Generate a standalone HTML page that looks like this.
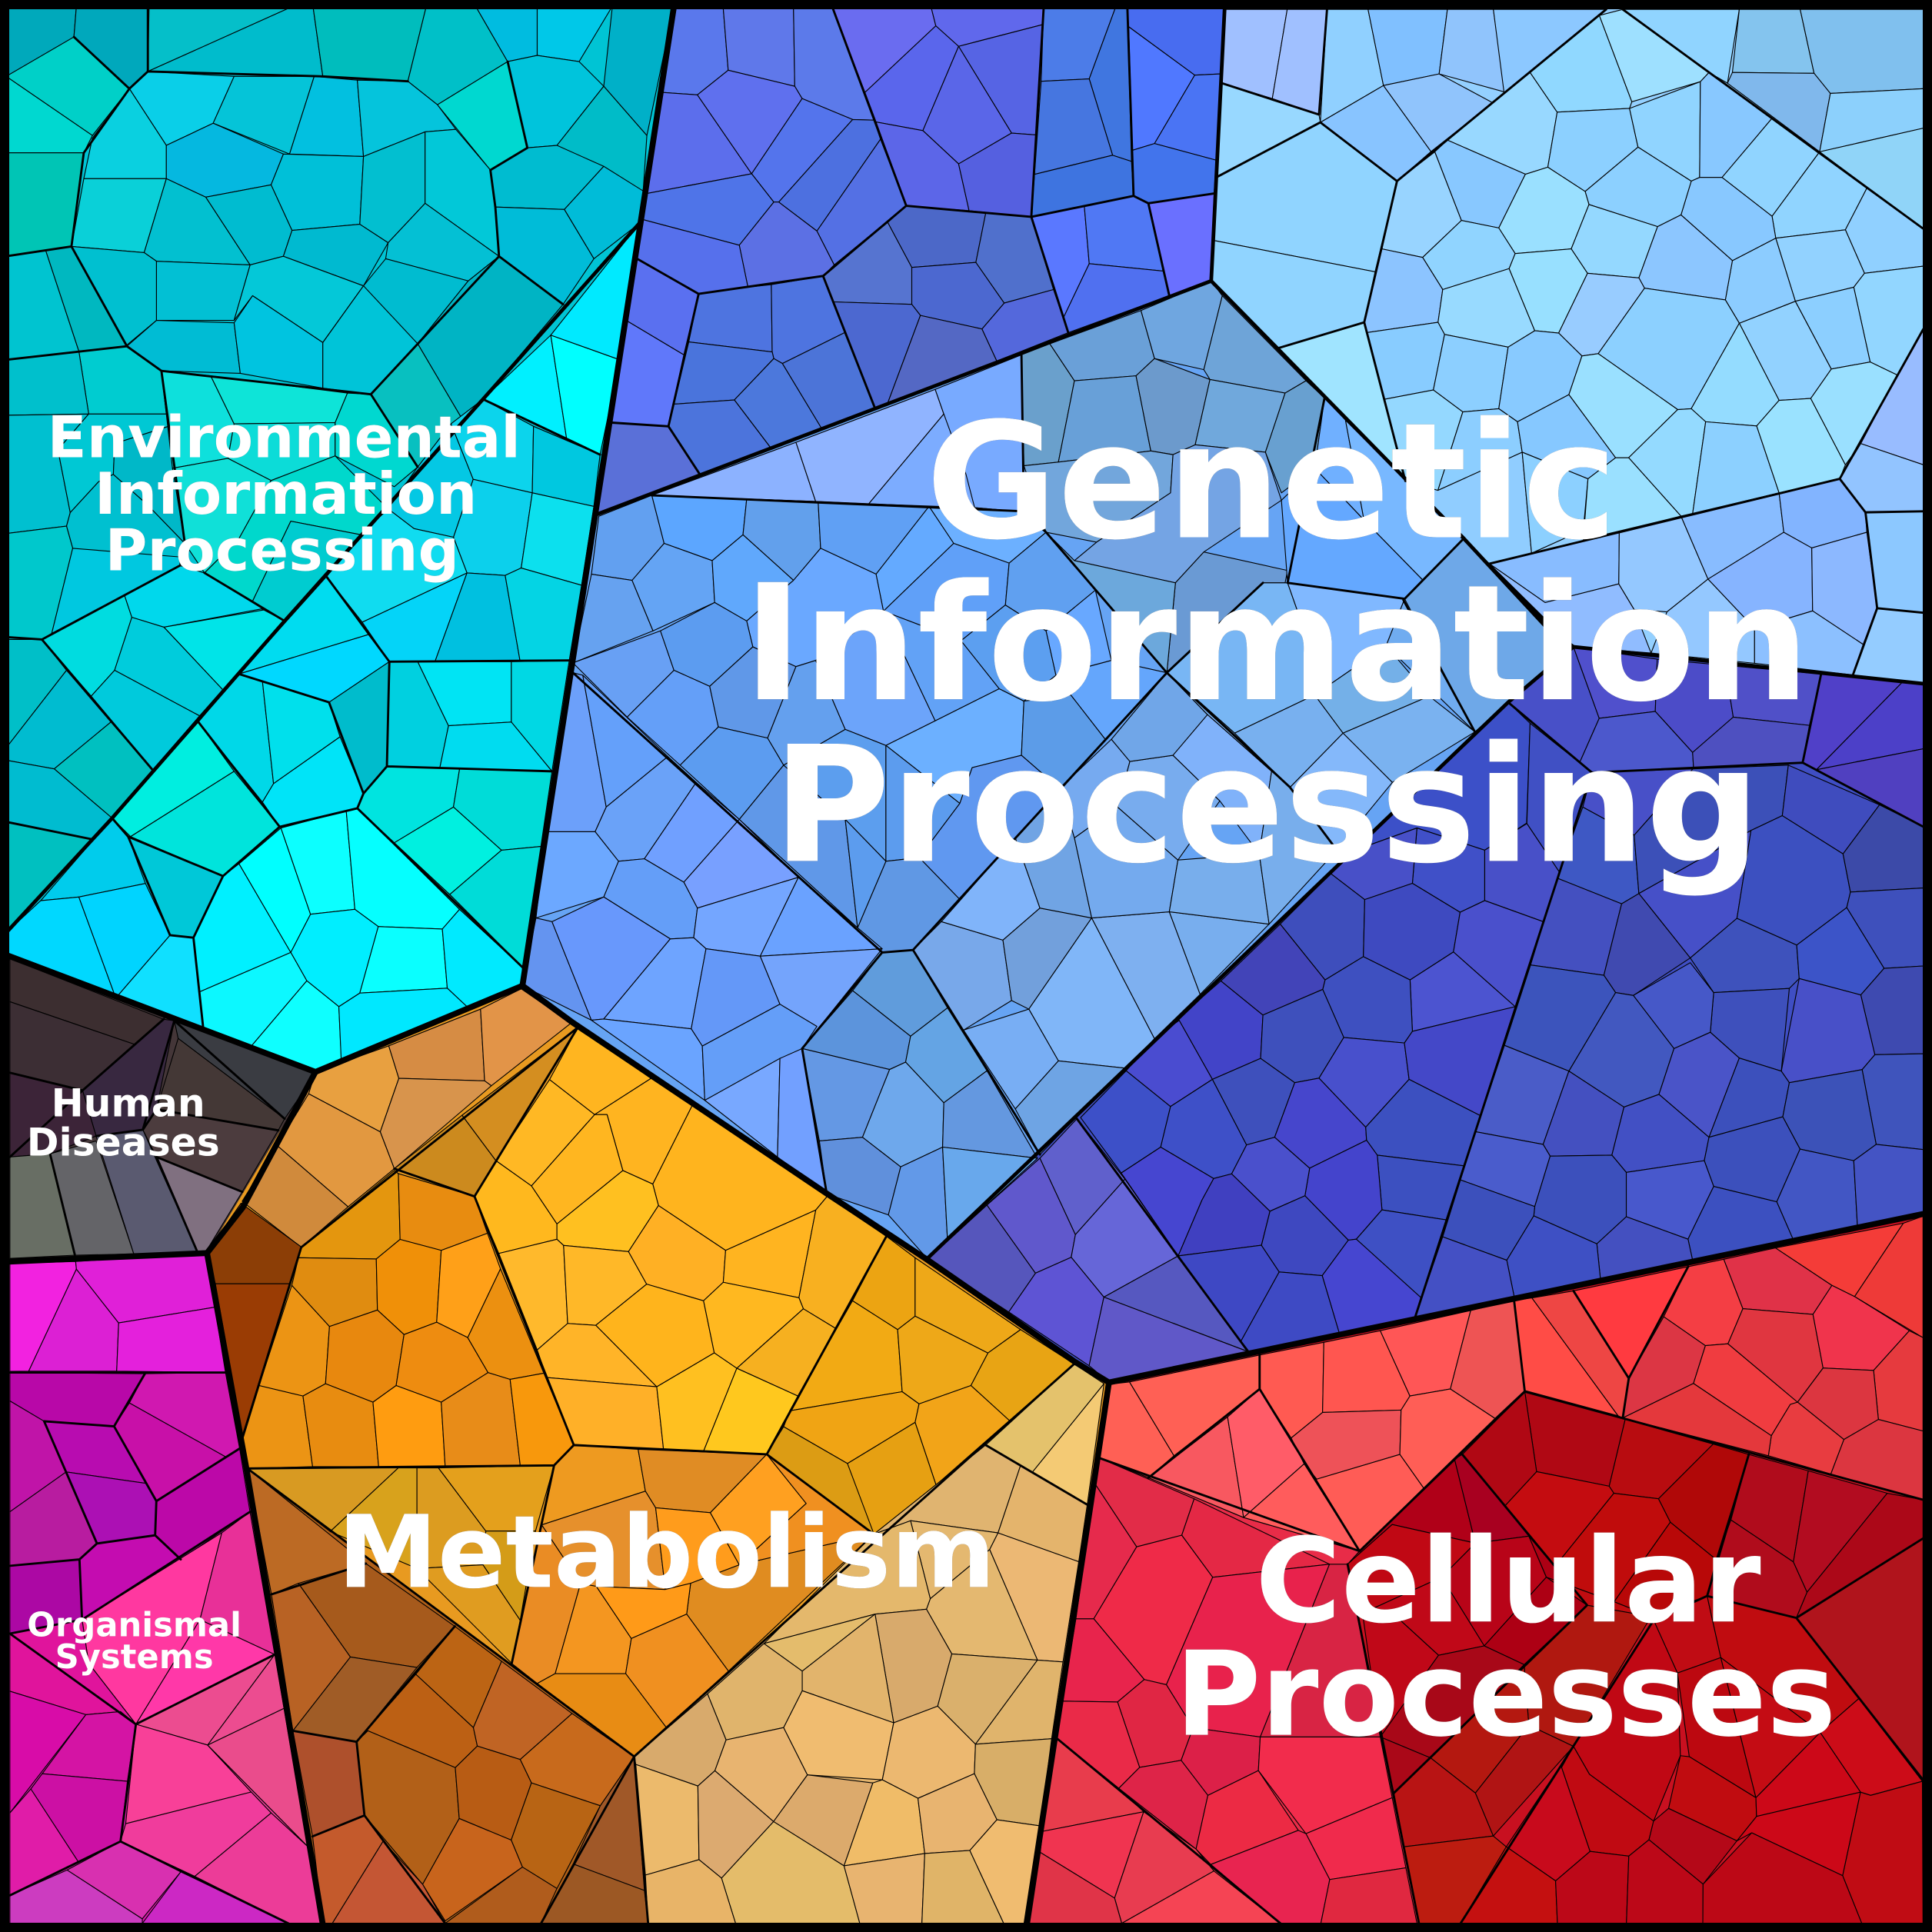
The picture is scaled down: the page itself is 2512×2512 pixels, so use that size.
<!DOCTYPE html>
<html><head><meta charset="utf-8"><style>
html,body{margin:0;padding:0;background:#000}
svg{display:block}
text{font-family:"DejaVu Sans","Liberation Sans",sans-serif;font-weight:bold;fill:#fff;text-anchor:middle;filter:drop-shadow(.7px .7px 0 #444)}
</style></head><body>
<svg xmlns="http://www.w3.org/2000/svg" width="2512" height="2512" viewBox="0 0 1568 1568">
<rect width="1568" height="1568" fill="#000"/>
<!-- base fills -->
<polygon points="5,5 547,5 424,800 256,870 5,775" fill="#00c4d4"/>
<polygon points="547,5 994,5 983,228 483,418" fill="#5a78e0"/>
<polygon points="483,418 983,228 1188,437 1254,508 1277,525 1224,570 875,905 752,1022 424,800" fill="#66a4f4"/>
<polygon points="994,5 1562,5 1562,555 1277,525 1188,437 983,228" fill="#94d0ff"/>
<polygon points="1224,570 1277,525 1562,555 1562,985 900,1122 752,1022 875,905" fill="#3f4ec4"/>
<polygon points="900,1122 1562,985 1562,1562 833,1562" fill="#c81020"/>
<polygon points="892.5,1183.4 1103.4,1258.9 1093.7,1269.5 1151.6,1562 833,1562" fill="#e82c48"/>
<polygon points="256,870 424,800 900,1122 833,1562 262,1562 168,1017" fill="#e89a20"/>
<polygon points="201,1192 514.7,1425.6 526,1562 262,1562" fill="#b06018"/>
<polygon points="514.7,1425.6 871.8,1107 896,1123 833,1562 526,1562" fill="#e4b46c"/>
<polygon points="256,870 250.5,887.7 224.8,929.6 196.5,975" fill="#e29840"/>
<polygon points="5,775 256,870 168,1017 5,1024" fill="#443638"/>
<polygon points="5,1024 168,1017 262,1562 5,1562" fill="#d818a8"/>
<g stroke="#000" stroke-width="0.7" stroke-linejoin="round">
<!-- ENV top -->
<polygon points="5,5 62,5 60,30 5,62" fill="#00a9bb"/>
<polygon points="62,5 121,5 120,58 105,72 60,30" fill="#00a8bc"/>
<polygon points="121,5 238,5 120,58" fill="#05bfc9"/>
<polygon points="238,5 254,5 262,62 120,58" fill="#00bccc"/>
<polygon points="254,5 346,5 331,66 262,62" fill="#00bdbd"/>
<polygon points="346,5 386,5 412,50 355,85 331,66" fill="#00c0c8"/>
<polygon points="386,5 436,5 436,45 412,50" fill="#00bce0"/>
<polygon points="436,5 497,5 470,50 436,45" fill="#00c8e8"/>
<polygon points="497,5 547,5 525,110 490,70" fill="#00b0c8"/>
<polygon points="412,50 436,45 470,50 490,70 452,118 428,120" fill="#00c4dc"/>
<polygon points="490,70 525,110 522,155 452,118" fill="#00bcc8"/>
<polygon points="398,138 428,120 452,118 490,135 458,170 402,168" fill="#00bcd0"/>
<polygon points="458,170 490,135 522,155 518,182 482,210" fill="#00bcd8"/>
<polygon points="402,168 458,170 482,210 457,247 405,208" fill="#00bcd8"/>
<polygon points="355,85 412,50 428,120 398,138" fill="#00d8d0"/>
<polygon points="5,62 60,30 105,72 75,110" fill="#00d0c8"/>
<polygon points="5,62 75,110 68,124 5,124" fill="#00d8d0"/>
<polygon points="5,124 68,124 58,200 5,208" fill="#00c5b5"/>
<polygon points="105,72 120,58 190,62 173,100 135,118" fill="#0acfe8"/>
<polygon points="190,62 255,62 235,125 173,100" fill="#05c4d8"/>
<polygon points="255,62 290,65 295,127 235,125" fill="#02c0e0"/>
<polygon points="290,65 331,66 355,85 370,105 345,107 295,127" fill="#05c4dc"/>
<polygon points="75,112 105,72 135,118 135,145 68,145" fill="#0ad0e0"/>
<polygon points="135,118 173,100 230,125 220,150 167,160 135,145" fill="#05b8e0"/>
<polygon points="230,125 295,127 292,182 237,187 220,150" fill="#00c0d8"/>
<polygon points="295,127 345,107 345,165 315,197 292,182" fill="#02bfd0"/>
<polygon points="345,107 370,105 398,138 402,168 405,208 345,165" fill="#02c8d8"/>
<polygon points="68,145 135,145 117,205 58,200" fill="#0ad0d8"/>
<polygon points="135,145 167,160 203,215 127,212 117,205" fill="#02c0d0"/>
<polygon points="167,160 220,150 237,187 230,208 203,215" fill="#00bcd0"/>
<polygon points="237,187 292,182 315,197 295,232 230,208" fill="#00bad0"/>
<polygon points="315,197 345,165 405,208 380,228 313,210" fill="#04c0d4"/>
<polygon points="58,200 117,205 127,212 127,260 103,280" fill="#00c0d0"/>
<polygon points="127,212 203,215 190,260 127,260" fill="#02c0d4"/>
<polygon points="203,215 230,208 295,232 262,278 205,240 190,260" fill="#04c8d8"/>
<polygon points="295,232 313,210 380,228 339,279 301,320 262,278" fill="#00bcd0"/>
<polygon points="127,260 190,262 195,303 131,301 103,281" fill="#00bcd4"/>
<polygon points="190,262 205,240 262,278 262,315 195,303" fill="#00c4e0"/>
<polygon points="262,278 295,232 339,279 301,320 262,315" fill="#00c4d8"/>
<polygon points="339,279 380,228 405,208 457,247 392,324 375,340" fill="#00b4c4"/>
<polygon points="301,320 339,279 375,340 339,379" fill="#08c0c0"/>
<polygon points="5,208 37,203 64,285 5,292" fill="#00c4d0"/>
<polygon points="37,203 58,200 103,281 64,285" fill="#00b8c0"/>
<!-- ENV middle -->
<polygon points="64,285 103,281 131,301 135,336 72,336" fill="#00ccd0"/>
<polygon points="5,292 64,285 72,336 5,337" fill="#00c0cc"/>
<polygon points="5,337 72,336 47,365 57,416 54,427 5,433" fill="#00c0d0"/>
<polygon points="72,336 135,336 140,345 93,360 92,385 80,391 57,416 47,365" fill="#00c8d4"/>
<polygon points="54,427 57,416 80,391 92,385 120,410 150,441 146,459 59,445" fill="#00c0d0"/>
<polygon points="5,433 54,427 59,445 42,514 34,519 5,517" fill="#00c8cc"/>
<polygon points="59,445 146,452 146,459 42,514" fill="#00c8e0"/>
<polygon points="92,385 93,360 140,345 150,441 120,410" fill="#00b8c8"/>
<polygon points="131,301 171,305 190,344 185,372 140,380" fill="#0ee0dc"/>
<polygon points="171,305 282,319 272,343 190,344" fill="#0ee4d8"/>
<polygon points="190,344 272,343 272,370 220,390 185,372" fill="#0cdcd8"/>
<polygon points="282,319 301,320 339,379 320,395 272,370 272,343" fill="#00d8d0"/>
<polygon points="140,380 185,372 220,390 194,437 166,465 150,441" fill="#10e0d8"/>
<polygon points="220,390 272,370 315,413 293,434 236,423 204,490 166,465 194,437" fill="#00d8cc"/>
<polygon points="236,423 293,434 231,504 204,490" fill="#00ccd0"/>
<polygon points="366,344 392,324 433,346 432,400 384,389" fill="#0cd4ec"/>
<polygon points="433,346 487,369 482,411 432,400" fill="#00c8e0"/>
<polygon points="384,389 432,400 423,461 410,467 379,465 368,436" fill="#0cd0ec"/>
<polygon points="432,400 482,411 472,475 423,461" fill="#0ce0ee"/>
<polygon points="366,344 384,389 368,436 336,429 315,413 339,379" fill="#04c8e4"/>
<polygon points="315,413 336,429 368,436 379,465 294,505 265,468 293,434" fill="#10dcf0"/>
<polygon points="379,465 353,537 316,537 294,505" fill="#04d4f8"/>
<polygon points="379,465 410,467 422,536 353,537" fill="#00c0e0"/>
<polygon points="410,467 423,461 472,475 462,536 422,536" fill="#04d4e4"/>
<polygon points="392,324 447,272 460,357" fill="#00f0ff"/>
<polygon points="447,272 503,292 487,369 460,357" fill="#00ffff"/>
<polygon points="447,272 520,180 503,292" fill="#00eaff"/>
<!-- ENV lower -->
<polygon points="5,519 34,519 54,544 5,607" fill="#00bfc8"/>
<polygon points="54,544 90,586 44,624 5,617 5,607" fill="#00bcd0"/>
<polygon points="90,586 124,625 91,664 44,624" fill="#00c0c0"/>
<polygon points="5,617 44,624 91,664 74,681 5,667" fill="#00bcd0"/>
<polygon points="5,667 74,681 5,757" fill="#00c0c0"/>
<polygon points="34,519 101,483 107,501 93,544 74,565" fill="#00dce0"/>
<polygon points="101,483 146,459 166,465 213,494 133,509 107,501" fill="#00d8ec"/>
<polygon points="133,509 214,495 231,504 181,560" fill="#00e4e8"/>
<polygon points="107,501 133,509 181,560 162,581 93,544" fill="#00ccdc"/>
<polygon points="93,544 162,581 124,625 74,565" fill="#00cadc"/>
<polygon points="194,547 265,468 299,515" fill="#00dcf0"/>
<polygon points="194,547 299,515 316,537 267,570" fill="#00d8ff"/>
<polygon points="267,570 316,537 314,622 295,644" fill="#00bccc"/>
<polygon points="161,586 194,547 213,553 222,636 213,651" fill="#00d8e8"/>
<polygon points="213,553 267,570 276,598 222,636" fill="#00e0ec"/>
<polygon points="222,636 276,598 295,644 290,656 227,671 213,651" fill="#00e4f8"/>
<polygon points="91,664 161,586 190,626 106,679" fill="#00eee0"/>
<polygon points="106,679 190,626 227,671 181,711" fill="#00e4dc"/>
<polygon points="104,679 181,711 157,761 138,759" fill="#00c8d8"/>
<polygon points="91,664 104,679 118,717 64,728 33,731" fill="#00ccec"/>
<polygon points="5,757 33,731 64,728 94,810 5,778" fill="#00d8ff"/>
<polygon points="64,728 118,717 138,759 94,810" fill="#00d4ff"/>
<polygon points="94,810 138,759 157,761 165,835" fill="#10e0ff"/>
<polygon points="181,711 194,701 236,773 162,805 157,761" fill="#00f0ff"/>
<polygon points="194,701 228,672 252,742 236,773" fill="#00ffff"/>
<polygon points="228,672 281,658 288,738 252,742" fill="#0cffff"/>
<polygon points="281,658 290,656 373,738 359,754 307,752 288,738" fill="#05ffff"/>
<polygon points="252,742 288,738 307,752 292,806 275,817 249,796 236,773" fill="#00eeff"/>
<polygon points="307,752 359,754 363,802 292,806" fill="#0affff"/>
<polygon points="359,754 373,738 424,785 424,800 379,817 363,802" fill="#00eaff"/>
<polygon points="162,805 236,773 249,796 204,849 165,835" fill="#0cf8ff"/>
<polygon points="249,796 275,817 277,859 256,870 204,849" fill="#0effff"/>
<polygon points="275,817 292,806 363,802 379,817 277,862" fill="#00e8ff"/>
<polygon points="290,656 295,644 314,622 373,624 368,655 320,684" fill="#00e4e0"/>
<polygon points="373,624 448,626 439,687 407,690 368,655" fill="#00dcd8"/>
<polygon points="320,684 368,655 407,690 365,726" fill="#00f0e0"/>
<polygon points="365,726 407,690 439,687 424,785" fill="#00dcd8"/>
<polygon points="290,656 320,684 365,726 424,785 373,738" fill="#00dcd8"/>
<polygon points="316,537 339,537 364,589 357,623 314,622" fill="#00d0e0"/>
<polygon points="339,537 415,537 415,586 364,589" fill="#00e4f4"/>
<polygon points="415,537 462,536 448,626 415,586" fill="#00d8e4"/>
<polygon points="364,589 415,586 448,626 357,623" fill="#00dcf0"/>
<!-- PERIWINKLE -->
<polygon points="548.6,7 587,7 591,57 566,77 538,75" fill="#5a78ec"/>
<polygon points="587,7 644,7 645,70 591,57" fill="#5f78ea"/>
<polygon points="644,7 676,7 702,75 709.5,97.5 692,97 651,80 645,70" fill="#5c7aea"/>
<polygon points="538,75 566,77 610,141 525,157" fill="#5c6eec"/>
<polygon points="566,77 591,57 645,70 651,80 610,141" fill="#5f70ee"/>
<polygon points="651,80 692,97 632,164 628,164 610,141" fill="#5474ec"/>
<polygon points="692,97 709.5,97.5 714.6,113 663,187.5 632,164" fill="#4d70e0"/>
<polygon points="714.6,113 735.5,167 677,215 663,187.5" fill="#5470e4"/>
<polygon points="525,157 610,141 628,164 600,199 521,178" fill="#4f74e8"/>
<polygon points="628,164 632,164 663,187.5 677,215 668,224 607,233 600,199" fill="#5c70e4"/>
<polygon points="521,178 600,199 607,233 567,238.5 517,210" fill="#5670ec"/>
<polygon points="517,210 567,238.5 555,288 509,260.5" fill="#5a70f0"/>
<polygon points="509,260.5 555,288 542.5,346 496.5,343" fill="#6078fa"/>
<polygon points="496.5,343 542.5,346 568,385 483,418" fill="#5a70d8"/>
<polygon points="567,238.5 607,233 626,231 626.7,285.6 559,277.5" fill="#4e74e0"/>
<polygon points="626,231 668,224 685.5,270 635,295 628,291 626.7,285.6" fill="#4e74e0"/>
<polygon points="559,277.5 626.7,285.6 628,291 596,324.6 547,328" fill="#4a74dc"/>
<polygon points="628,291 635,295 667,348 625.6,363.6 596,324.6" fill="#4c78dc"/>
<polygon points="635,295 685.5,270 710,331 667,348" fill="#4c74d8"/>
<polygon points="547,328 596,324.6 625.6,363.6 568,385 542.5,346" fill="#4c74dc"/>
<polygon points="668,224 720.5,180.5 740,217 740,247 676,245" fill="#5674d0"/>
<polygon points="720.5,180.5 735.5,167 800,173 792,213 740,217" fill="#4c68c8"/>
<polygon points="800,173 837,176 855,235 815,246 792,213" fill="#5070cc"/>
<polygon points="740,217 792,213 815,246 797,267 747,256 740,247" fill="#4c68d0"/>
<polygon points="676,245 740,247 747,256 720.5,327 710,331" fill="#4c68d0"/>
<polygon points="747,256 797,267 809,293 720.5,327" fill="#5468c4"/>
<polygon points="815,246 855,235 867,270 809,293 797,267" fill="#5468dc"/>
<polygon points="676,7 756,7 759.5,21 702,75" fill="#6a6cf0"/>
<polygon points="756,7 847,7 846,20 778,37.6 759.5,21" fill="#6068ec"/>
<polygon points="702,75 759.5,21 778,37.6 749,106 711,99" fill="#5a66ec"/>
<polygon points="778,37.6 846,20 841,109.5 821,108" fill="#5664e4"/>
<polygon points="778,37.6 821,108 778,133 749,106" fill="#5a66e8"/>
<polygon points="711,99 749,106 778,133 786.5,171 735.5,167" fill="#5c66e8"/>
<polygon points="778,133 821,108 841,109.5 837,176 786.5,171" fill="#5560e0"/>
<polygon points="847,7 905,7 884,64 845,66" fill="#4c7ce8"/>
<polygon points="905,7 915,7 918.3,131 903,126 884,64" fill="#4076e0"/>
<polygon points="845,66 884,64 903,126 839.6,141.5" fill="#4676e0"/>
<polygon points="839.6,141.5 903,126 918.3,131 920,159 837,176" fill="#3e74e0"/>
<polygon points="915,7 994,7 991,60 969.6,61 916,21.7" fill="#486cf0"/>
<polygon points="916,21.7 969.6,61 937,116.5 919,122" fill="#5078ff"/>
<polygon points="969.6,61 991,60 987,130 937,116.5" fill="#4a74f4"/>
<polygon points="919,122 937,116.5 987,130 985.4,157 932,165 920,159" fill="#4274ec"/>
<polygon points="837,176 880,167 884,214 863,258" fill="#5a78ff"/>
<polygon points="880,167 920,159 932,165 944,220 884,214" fill="#5078f4"/>
<polygon points="932,165 985.4,157 982.7,227 949,240 944,220" fill="#6a70ff"/>
<polygon points="884,214 944,220 949,240 867,270 863,258" fill="#5070f0"/>
<!-- LIGHT BLUE -->
<polygon points="993.5,7.6 1044.7,7.6 1032.6,80 991.6,67.5" fill="#a0c0ff"/>
<polygon points="1044.7,7.6 1077,7.6 1070.5,93 1032.6,80" fill="#a0c0ff"/>
<polygon points="1077,7.6 1110.3,7.6 1122.8,69.4 1071.6,99.3" fill="#90d0ff"/>
<polygon points="1110.3,7.6 1174.7,7.6 1168,60 1122.8,69.4" fill="#80c0ff"/>
<polygon points="1174.7,7.6 1212,7.6 1221.3,74.7 1168,60" fill="#90c4fc"/>
<polygon points="1212,7.6 1303.6,7.6 1298,12.5 1221.3,80" fill="#8cc8ff"/>
<polygon points="1071.6,99.3 1122.8,69.4 1161.4,123 1133.8,147" fill="#88c4ff"/>
<polygon points="1122.8,69.4 1168,60 1211.5,83.4 1161.4,123" fill="#90c4fc"/>
<polygon points="991.6,67.5 1070.5,93 1071.6,99.3 987,144" fill="#98d8ff"/>
<polygon points="987,144 1071.6,99.3 1133.8,147 1116,220.6 984.4,195" fill="#90d4ff"/>
<polygon points="984.4,195 1116,220.6 1107.2,261.6 1038,282.4 982,227.4" fill="#90d4ff"/>
<polygon points="1038,282.4 1107.2,261.6 1140.6,390.4" fill="#a0e4ff"/>
<polygon points="1133.8,147 1164.5,123.2 1186.1,178.9 1154.6,208.9 1121.6,202" fill="#98d4ff"/>
<polygon points="1174.7,113.7 1238,141.4 1256.2,135.7 1263.8,91 1241.8,58.8" fill="#98d8ff"/>
<polygon points="1164.5,123.2 1174.7,113.7 1238,141.4 1216.4,185 1186.1,178.9" fill="#88c8ff"/>
<polygon points="1241.8,58.8 1298,12.5 1324.4,82.6 1322.5,88 1263.8,91" fill="#90d8ff"/>
<polygon points="1298,12.5 1317,7.6 1387,58.8 1380,66.3 1324.4,82.6" fill="#9ee0ff"/>
<polygon points="1263.8,91 1322.5,88 1329.4,119.4 1286.5,155.4 1256.2,135.7" fill="#8cd0ff"/>
<polygon points="1322.5,88 1380,66.3 1379.4,144 1372.6,147 1329.4,119.4" fill="#90d4ff"/>
<polygon points="1380,66.3 1387,58.8 1438.2,96 1397.6,144 1379.4,144" fill="#88c8ff"/>
<polygon points="1397.6,144 1438.2,96 1476.8,123.2 1438.2,175.5" fill="#90d4ff"/>
<polygon points="1476.8,123.2 1515.1,152.8 1497.7,186.5 1441.2,193.3 1438.2,175.5" fill="#90d4ff"/>
<polygon points="1515.1,152.8 1561,185.7 1561,216 1513.2,221.8 1497.7,186.5" fill="#90d0ff"/>
<polygon points="1441.2,193.3 1497.7,186.5 1513.2,221.8 1504.5,233.1 1457.1,244.5" fill="#92d2ff"/>
<polygon points="1513.2,221.8 1561,216 1561,267 1539.8,304.4 1517.8,293.8 1504.5,233.1" fill="#92d6ff"/>
<polygon points="1411.6,262.3 1457.1,244.5 1486.3,299.5 1469.6,323.4 1443.9,324.9" fill="#92d2ff"/>
<polygon points="1457.1,244.5 1504.5,233.1 1517.8,293.8 1486.3,299.5" fill="#8ccfff"/>
<polygon points="1406,211.5 1441.2,193.3 1457.1,244.5 1411.6,262.3 1400.3,243.4" fill="#8cccff"/>
<polygon points="1372.6,147 1379.4,144 1397.6,144 1438.2,175.5 1441.2,193.3 1406,211.5 1364.3,174.4" fill="#88c8ff"/>
<polygon points="1329.4,119.4 1372.6,147 1364.3,174.4 1345.3,183.9 1289.6,166 1286.5,155.4" fill="#8cd0ff"/>
<polygon points="1238,141.4 1256.2,135.7 1286.5,155.4 1289.6,166 1275.2,202 1229.7,205.8 1216.4,185" fill="#9ae0ff"/>
<polygon points="1289.6,166 1345.3,183.9 1330.1,225.5 1288.4,221.8 1275.2,202" fill="#94d8ff"/>
<polygon points="1345.3,183.9 1364.3,174.4 1406,211.5 1400.3,243.4 1334.7,233.9 1330.1,225.5" fill="#8cc6ff"/>
<polygon points="1186.1,178.9 1216.4,185 1229.7,205.8 1224.8,218 1170.9,235 1154.6,208.9" fill="#90d4ff"/>
<polygon points="1121.6,202 1154.6,208.9 1170.9,235 1167.1,261.6 1109.5,269.9 1107.2,261.6" fill="#8cc4ff"/>
<polygon points="1170.9,235 1224.8,218 1245.6,268.4 1224,281.7 1172.4,271.4 1167.1,261.6" fill="#98daff"/>
<polygon points="1224.8,218 1229.7,205.8 1275.2,202 1288.4,221.8 1265,270.3 1245.6,268.4" fill="#98e0ff"/>
<polygon points="1288.4,221.8 1330.1,225.5 1334.7,233.9 1297.1,287 1283.9,288.9 1265,270.3" fill="#98ccff"/>
<polygon points="1334.7,233.9 1400.3,243.4 1411.6,262.3 1372.6,331.7 1361.6,332.4 1297.1,287" fill="#8cd0ff"/>
<polygon points="1411.6,262.3 1443.9,324.9 1425.7,345.7 1384.3,342.3 1372.6,331.7" fill="#94dcff"/>
<polygon points="1109.5,269.9 1167.1,261.6 1172.4,271.4 1163.3,316.5 1123.5,324.1" fill="#88ccff"/>
<polygon points="1172.4,271.4 1224,281.7 1216.4,331.7 1187.2,334.3 1163.3,316.5" fill="#8ccfff"/>
<polygon points="1224,281.7 1245.6,268.4 1265,270.3 1283.9,288.9 1273.3,320.3 1231.6,342.3 1216.4,331.7" fill="#88caff"/>
<polygon points="1283.9,288.9 1297.1,287 1361.6,332.4 1321.8,371.5 1311.2,371.5 1273.3,320.3" fill="#9ae0ff"/>
<polygon points="1361.6,332.4 1372.6,331.7 1384.3,342.3 1373.7,417 1364.3,418.9 1321.8,371.5" fill="#94daff"/>
<polygon points="1384.3,342.3 1425.7,345.7 1443.9,400 1373.7,417" fill="#8cd0ff"/>
<polygon points="1425.7,345.7 1443.9,324.9 1469.6,323.4 1497.7,377.2 1493.1,388.6 1443.9,400" fill="#9ae2ff"/>
<polygon points="1469.6,323.4 1486.3,299.5 1517.8,293.8 1539.8,304.4 1510.2,360 1497.7,377.2" fill="#9ae0ff"/>
<polygon points="1539.8,304.4 1561,267 1561,377.2 1510.2,360" fill="#98bcff"/>
<polygon points="1510.2,360 1561,377.2 1561,415 1514,415.8 1493.1,388.6" fill="#92c4ff"/>
<polygon points="1123.5,324.1 1163.3,316.5 1187.2,334.3 1167,398 1140.6,390.4" fill="#94d8ff"/>
<polygon points="1187.2,334.3 1216.4,331.7 1231.6,342.3 1235.4,367 1167,398" fill="#8cceff"/>
<polygon points="1231.6,342.3 1273.3,320.3 1311.2,371.5 1288.8,388.6 1235.4,367" fill="#86c8ff"/>
<polygon points="1140.6,390.4 1167,398 1235.4,367 1243,449 1208.8,457.5 1186,436" fill="#90cdff"/>
<polygon points="1235.4,367 1288.8,388.6 1285,430 1243,449" fill="#8cd0ff"/>
<polygon points="1288.8,388.6 1311.2,371.5 1321.8,371.5 1364.3,418.9 1285,438" fill="#9ae0ff"/>
<polygon points="1317,7.6 1411.6,7.6 1402,67.5 1387,58.8" fill="#90d4ff"/>
<polygon points="1411.6,7.6 1461,7.6 1472.3,59.5 1406,58.8" fill="#84c4ee"/>
<polygon points="1461,7.6 1561,7.6 1561,72 1485.5,75.8 1472.3,59.5" fill="#80c0ee"/>
<polygon points="1402,67.5 1406,58.8 1472.3,59.5 1485.5,75.8 1476.8,123.2" fill="#80b8ec"/>
<polygon points="1485.5,75.8 1561,72 1561,104 1476.8,123.2" fill="#8cd0fc"/>
<polygon points="1476.8,123.2 1561,104 1561,185.7" fill="#90d4f8"/>
<polygon points="1208.8,457.5 1314.2,432 1313.8,473.9 1254,489" fill="#88bcff"/>
<polygon points="1208.8,457.5 1254,489 1313.8,473.9 1326.3,494.7 1340,530 1277,525" fill="#90bcff"/>
<polygon points="1314.2,432 1364.3,418.9 1386.2,470 1352.9,496.6 1326.3,494.7 1313.8,473.9" fill="#94c8ff"/>
<polygon points="1364.3,418.9 1443.9,400 1447.7,432 1386.2,470" fill="#88bcff"/>
<polygon points="1443.9,400 1493.1,388.6 1514,415.8 1515.1,432 1470.4,444.7 1447.7,432" fill="#82b4ff"/>
<polygon points="1447.7,432 1470.4,444.7 1471.1,495.8 1424,510 1386.2,470" fill="#86b4ff"/>
<polygon points="1470.4,444.7 1515.1,432 1523.5,493.6 1512.1,523 1471.1,495.8" fill="#8cb8ff"/>
<polygon points="1386.2,470 1424,510 1424,538.3 1340,530 1352.9,496.6" fill="#94c8ff"/>
<polygon points="1424,510 1471.1,495.8 1512.1,523 1503.8,547.8 1424,538.3" fill="#8cc0ff"/>
<polygon points="1514,415.8 1561,415 1561,497.3 1523.5,493.6" fill="#8cc8ff"/>
<polygon points="1523.5,493.6 1561,497.3 1561,554.2 1503.8,547.8" fill="#94ccff"/>
<!-- CENTRAL -->
<polygon points="529,402 646,359 662,407" fill="#8cb2ff"/>
<polygon points="646,359 759,316 766,336 705,409 662,407" fill="#90b4ff"/>
<polygon points="759,316 829,288 831,378 826,415 791,412 766,336" fill="#78aaff"/>
<polygon points="766,336 784,385 791,412 705,409" fill="#7cacff"/>
<polygon points="829,288 852,279 872,309 859,375 831,378" fill="#6aa0cc"/>
<polygon points="852,279 926,252 937,291 922,305 872,309" fill="#6aa0d8"/>
<polygon points="926,252 983,228 992,240 977,300 937,291" fill="#6fa6e0"/>
<polygon points="992,240 1060,309 1043,319 982,308 977,300" fill="#6ea4d8"/>
<polygon points="872,309 922,305 934,366 859,375" fill="#68a0d8"/>
<polygon points="922,305 937,291 982,308 970,361 952,369 934,366" fill="#6c9acc"/>
<polygon points="982,308 1043,319 1027,367 970,361" fill="#70a8dc"/>
<polygon points="1043,319 1060,309 1075,323 1067,380 1040,400 1027,367" fill="#68a0d0"/>
<polygon points="859,375 934,366 952,369 950,400 890,440 849,432 831,378" fill="#72a6dc"/>
<polygon points="952,369 970,361 1027,367 1040,406 977,448 954,473 872,455 890,440 950,400" fill="#74a4e4"/>
<polygon points="977,448 1045,463 1043,473 1025,473 947,546 954,473" fill="#6a9ad4"/>
<polygon points="849,432 872,455 954,473 947,546" fill="#6ca8dc"/>
<polygon points="1075,323 1092,341 1107,422 1067,380" fill="#70b0ff"/>
<polygon points="1067,380 1107,422 1155,471 1140,486 1045,473 1040,406" fill="#64a8ff"/>
<polygon points="1092,341 1188,437 1155,471 1107,422" fill="#78b8ff"/>
<polygon points="1139,487 1155,471 1188,437 1254,508 1277,525 1224,570 1197,594" fill="#6ea8e8"/>
<polygon points="947,546 1025,473 1045,473 1065,530 1067,564 1002,595" fill="#78b6f4"/>
<polygon points="1045,473 1140,486 1125,524 1067,564 1065,530" fill="#80b8ff"/>
<polygon points="1140,486 1197,594 1125,524" fill="#70acf0"/>
<polygon points="1002,595 1067,564 1090,595 1047,639" fill="#78b0ef"/>
<polygon points="1067,564 1125,524 1160,565 1090,595" fill="#74b0e8"/>
<polygon points="1090,595 1160,565 1197,594 1130,635" fill="#7ab2f0"/>
<polygon points="1047,639 1090,595 1130,635 1085,690" fill="#84b8fa"/>
<polygon points="741,771 764,748 814,763 821,812 782,836 769,818" fill="#78a8ea"/>
<polygon points="764,748 824,680 844,737 814,763" fill="#80b4fa"/>
<polygon points="814,763 844,737 886,745 835,819 821,812" fill="#72a0dc"/>
<polygon points="835,819 886,745 937,843 914,867 859,861" fill="#80b6f8"/>
<polygon points="886,745 949,740 974,807 937,843" fill="#7eb0f0"/>
<polygon points="949,740 1030,750 974,807" fill="#78aeee"/>
<polygon points="782,836 835,819 859,861 824,900" fill="#78aef4"/>
<polygon points="859,861 914,867 875,905 844,937 824,900" fill="#6ea4e4"/>
<polygon points="844,737 824,680 860,640 872,680 886,745" fill="#70a4e4"/>
<polygon points="872,680 907,655 956,698 949,740 886,745" fill="#74aaee"/>
<polygon points="860,640 902,600 917,618 907,655 872,680" fill="#76aaf0"/>
<polygon points="907,655 917,618 952,613 990,650 956,698" fill="#78acee"/>
<polygon points="902,600 947,546 980,580 952,613 917,618" fill="#70a6e8"/>
<polygon points="947,546 1002,595 1032,626 980,580" fill="#78b0ef"/>
<polygon points="952,613 980,580 1032,626 1022,693 990,650" fill="#80b2fa"/>
<polygon points="956,698 1022,693 1030,750 949,740" fill="#78aeec"/>
<polygon points="1022,693 1032,626 1047,639 1085,690 1030,750" fill="#78aeec"/>
<polygon points="486,419 529,402 539,441 513,471 480,466" fill="#62a0f0"/>
<polygon points="529,402 606,405 603,434 578,455 539,441" fill="#5ca6ff"/>
<polygon points="606,405 664,407 666,445 644,471 603,434" fill="#62a0ec"/>
<polygon points="664,407 754,411 711,466 666,445" fill="#60a0f4"/>
<polygon points="754,411 791,412 826,415 849,432 819,457 774,441" fill="#6cb0ff"/>
<polygon points="711,466 754,411 774,441 717,496" fill="#64aaff"/>
<polygon points="774,441 819,457 816,491 780,520 717,496" fill="#60a0f8"/>
<polygon points="480,466 513,471 530,512 465,538" fill="#66a2f0"/>
<polygon points="513,471 539,441 578,455 580,489 530,512" fill="#64a4f4"/>
<polygon points="578,455 603,434 644,471 606,504 580,489" fill="#60a8fc"/>
<polygon points="644,471 666,445 711,466 717,496 662,536 646,541 611,525 606,504" fill="#6aa8ff"/>
<polygon points="465,538 536,512 547,544 509,582" fill="#68a0f4"/>
<polygon points="536,512 580,489 606,504 611,525 576,557 547,544" fill="#5c9cf0"/>
<polygon points="509,582 547,544 576,557 583,590 552,621" fill="#649ff8"/>
<polygon points="576,557 611,525 646,541 623,599 583,590" fill="#6098e8"/>
<polygon points="552,621 583,590 623,599 636,621 600,665" fill="#5c9cf0"/>
<polygon points="623,599 646,541 662,536 686,592 636,621" fill="#64a0ee"/>
<polygon points="662,536 717,496 759,585 719,605 686,592" fill="#6ca4fa"/>
<polygon points="717,496 780,520 811,559 759,585" fill="#62a2f6"/>
<polygon points="759,585 811,559 831,569 829,613 789,623 779,652 719,605" fill="#6cb0ff"/>
<polygon points="780,520 816,491 849,512 857,548 831,569 811,559" fill="#5c9ff0"/>
<polygon points="816,491 819,457 849,432 889,479 849,512" fill="#60a0f0"/>
<polygon points="849,512 889,479 902,536 857,548" fill="#68a8ff"/>
<polygon points="857,548 902,536 947,546 897,600 869,564" fill="#64a6fc"/>
<polygon points="831,569 869,564 897,600 860,640 829,613" fill="#5c9ce8"/>
<polygon points="600,665 636,621 686,665 696,753" fill="#6098e8"/>
<polygon points="636,621 686,592 719,605 719,699 686,665" fill="#5c9eee"/>
<polygon points="719,605 779,652 746,696 719,699" fill="#5c9cee"/>
<polygon points="779,652 789,623 829,613 860,640 779,730 746,696" fill="#6098f0"/>
<polygon points="719,699 746,696 779,730 741,771 716,773 696,753" fill="#6098e4"/>
<polygon points="686,665 719,699 696,753" fill="#5c9cee"/>
<polygon points="465,546 473,548 492,655 483,675 443,675" fill="#6ca0fa"/>
<polygon points="473,548 542,614 492,655" fill="#64a0fa"/>
<polygon points="542,614 565,635 523,697 502,699 483,675 492,655" fill="#6aa2f8"/>
<polygon points="565,635 600,665 555,716 523,697" fill="#70a0ff"/>
<polygon points="600,665 648,712 566,737 555,716" fill="#78a0ff"/>
<polygon points="443,675 483,675 502,699 490,728 435,745" fill="#6ca8ff"/>
<polygon points="502,699 523,697 555,716 566,737 563,761 544,762 490,728" fill="#649ef8"/>
<polygon points="566,737 648,712 617,776 573,770 563,761" fill="#74a6ff"/>
<polygon points="648,712 696,753 716,770 617,776" fill="#6aa2ff"/>
<polygon points="435,745 448,748 480,828 424,800" fill="#6494f0"/>
<polygon points="448,748 490,728 544,762 490,827 480,828" fill="#6898fc"/>
<polygon points="544,762 563,761 573,770 561,835 490,827" fill="#6ea4ff"/>
<polygon points="573,770 617,776 633,815 570,849 561,835" fill="#6498f8"/>
<polygon points="617,776 716,770 651,851 633,815" fill="#74a4fc"/>
<polygon points="480,828 490,827 561,835 570,849 572,893" fill="#6aa4ff"/>
<polygon points="570,849 633,815 663,833 651,851 572,893" fill="#649ef8"/>
<polygon points="572,893 633,859 631,939" fill="#78a8ff"/>
<polygon points="633,859 651,851 671,969 631,939" fill="#72a0ff"/>
<polygon points="716,773 741,771 769,818 739,841 692,804" fill="#609cdc"/>
<polygon points="692,804 739,841 735,862 722,868 651,851" fill="#5c94dc"/>
<polygon points="769,818 801,869 766,895 735,862 739,841" fill="#64a4e4"/>
<polygon points="651,851 722,868 700,923 665,926" fill="#6498e4"/>
<polygon points="722,868 735,862 766,895 765,931 731,947 700,923" fill="#6ea8ec"/>
<polygon points="801,869 842,940 765,931 766,895" fill="#6498e0"/>
<polygon points="665,926 700,923 731,947 721,986 671,969" fill="#6090dc"/>
<polygon points="731,947 765,931 769,1007 753,1022 721,986" fill="#6299e8"/>
<polygon points="765,931 842,940 769,1007" fill="#68a8ec"/>
<!-- PURPLE -->
<polygon points="753,1022 801,978 840.4,1033.3 818.7,1064.8" fill="#5656bc"/>
<polygon points="801,978 844,940 872.8,1002 869.4,1020.4 840.4,1033.3" fill="#6058cc"/>
<polygon points="844,940 874,908 913,957 872.8,1002" fill="#6060cc"/>
<polygon points="872.8,1002 913,957 956.2,1019.3 895.9,1052.7 869.4,1020.4" fill="#6666d8"/>
<polygon points="840.4,1033.3 869.4,1020.4 895.9,1052.7 883.9,1108.4 818.7,1064.8" fill="#5e54d4"/>
<polygon points="895.9,1052.7 956.2,1019.3 1013,1097" fill="#5658c0"/>
<polygon points="895.9,1052.7 1013,1097 899.8,1121.6 883.9,1108.4" fill="#6058c8"/>
<!-- DARK BLUE -->
<polygon points="877,907 914,869 950,898 942,931 910,952" fill="#3d50c8"/>
<polygon points="914,869 937,843 957,828 984,876 950,898" fill="#4a4cd0"/>
<polygon points="937,843 990.9,796.1 1025,823.8 1023.1,859 984,876 957,828" fill="#4244c8"/>
<polygon points="942,931 950,898 984,876 1011.7,929.2 999.6,952.7 985,956.5" fill="#3e50c8"/>
<polygon points="910,952 942,931 985,956.5 975.5,974 956.2,1019.3" fill="#4646d0"/>
<polygon points="975.5,974 985,956.5 999.6,952.7 1030.7,983 1023.8,1010.6 956.2,1019.3" fill="#4040c0"/>
<polygon points="956.2,1019.3 1023.8,1010.6 1038.2,1032.3 1007.2,1088.4 1013,1097" fill="#3e48c4"/>
<polygon points="1224,570 1277,525 1297.9,583 1282,619" fill="#4850c8"/>
<polygon points="1277,525 1345,535 1343.4,577.4 1297.9,583" fill="#5050cc"/>
<polygon points="1345,535 1400,540 1406.7,582 1373.7,610.7 1343.4,577.4" fill="#4c4cc8"/>
<polygon points="1400,540 1478,547 1468.5,588.7 1406.7,582" fill="#5050c8"/>
<polygon points="1297.9,583 1343.4,577.4 1373.7,610.7 1374.5,623.6 1292,627 1282,619" fill="#4c58cc"/>
<polygon points="1373.7,610.7 1406.7,582 1468.5,588.7 1463,619 1374.5,623.6" fill="#4e50c0"/>
<polygon points="1478,547 1543.6,554 1474.2,624.7 1463,619" fill="#5040c8"/>
<polygon points="1543.6,554 1561,555 1561,607.7 1474.2,624.7" fill="#4c40c8"/>
<polygon points="1463,619 1474.2,624.7 1561,607.7 1561,671" fill="#5040c0"/>
<polygon points="1292,627 1374,624 1326.3,677.8 1284.6,655" fill="#4850c8"/>
<polygon points="1284.6,655 1326.3,677.8 1330.1,725.2 1316.1,733.5 1263.8,712.7" fill="#3e58c4"/>
<polygon points="1374,624 1451.4,621 1446.5,662 1421.1,674 1330.1,725.2 1326.3,677.8" fill="#3c50b8"/>
<polygon points="1330.1,725.2 1421.1,674 1409.7,745.3 1371.8,777.5" fill="#4650c8"/>
<polygon points="1263.8,712.7 1316.1,733.5 1301.7,791.5 1242.2,783.2" fill="#4450c0"/>
<polygon points="1316.1,733.5 1330.1,725.2 1371.8,777.5 1325.6,807.9 1311.2,805.6 1301.7,791.5" fill="#404ab0"/>
<polygon points="1371.8,777.5 1409.7,745.3 1458.2,767 1460.2,794.2 1452.2,802.2 1390.8,805.6" fill="#3e52bc"/>
<polygon points="1451.4,621 1525.4,653.2 1495.8,693 1446.5,662" fill="#3f4cbe"/>
<polygon points="1421.1,674 1446.5,662 1495.8,693 1501.8,724 1498.8,736.6 1458.2,767 1409.7,745.3" fill="#3c50c0"/>
<polygon points="1525.4,653.2 1561,671 1561,720.7 1501.8,724 1495.8,693" fill="#3c4aa8"/>
<polygon points="1501.8,724 1561,720.7 1561,784 1529.1,785.9 1498.8,736.6" fill="#3e50bc"/>
<polygon points="1458.2,767 1498.8,736.6 1529.1,785.9 1510.2,807.5 1460.2,794.2" fill="#3c54c8"/>
<polygon points="1529.1,785.9 1561,784 1561,855.2 1521.6,856 1510.2,807.5" fill="#3e4ab0"/>
<polygon points="1460.2,794.2 1510.2,807.5 1521.6,856 1511.3,868.1 1452.2,878.7 1445.7,869.3" fill="#4850c8"/>
<polygon points="1511.3,868.1 1521.6,856 1561,855.2 1561,933 1522.7,928.8" fill="#3f54bc"/>
<polygon points="1390.8,805.6 1452.2,802.2 1445.7,869.3 1411.6,858.7 1388.1,837.8" fill="#3e50bc"/>
<polygon points="1371.8,781.3 1390.8,805.6 1388.1,837.8 1358.6,851 1325.6,807.9" fill="#4658c8"/>
<polygon points="1242.2,783.2 1301.7,791.5 1311.2,805.6 1273.3,869.3 1221,848.4" fill="#3c54bc"/>
<polygon points="1311.2,805.6 1325.6,807.9 1358.6,851 1346.4,888.2 1318,898.5 1273.3,869.3" fill="#4258c0"/>
<polygon points="1358.6,851 1388.1,837.8 1411.6,858.7 1387,923 1346.4,888.2" fill="#4a54c8"/>
<polygon points="1411.6,858.7 1445.7,869.3 1452.2,878.7 1446.9,906.4 1387,923" fill="#3c50bc"/>
<polygon points="1452.2,878.7 1511.3,868.1 1522.7,928.8 1504.5,942 1460.9,932.6 1446.9,906.4" fill="#3c52b8"/>
<polygon points="1221,848.4 1273.3,869.3 1252.4,928.8 1197.5,918.5" fill="#4a5cc8"/>
<polygon points="1273.3,869.3 1318,898.5 1308.2,937.5 1258.1,938.3 1252.4,928.8" fill="#4450c0"/>
<polygon points="1318,898.5 1346.4,888.2 1387,923 1383.2,942 1319.9,951.5 1308.2,937.5" fill="#4250c4"/>
<polygon points="1387,923 1446.9,906.4 1460.9,932.6 1442,975.4 1390.8,962.9 1383.2,942" fill="#3c50bc"/>
<polygon points="1460.9,932.6 1504.5,942 1507.5,995.5 1455.2,1005.7 1442,975.4" fill="#4256c4"/>
<polygon points="1504.5,942 1522.7,928.8 1561,933 1561,986 1507.5,995.5" fill="#4454c4"/>
<polygon points="1197.5,918.5 1252.4,928.8 1258.1,938.3 1245.6,979.2 1185.3,957.6" fill="#4a5ccc"/>
<polygon points="1258.1,938.3 1308.2,937.5 1319.9,951.5 1319.9,987.5 1296,1009.5 1244.8,986.8 1245.6,979.2" fill="#3c50bc"/>
<polygon points="1319.9,951.5 1383.2,942 1390.8,962.9 1370,1005.7 1319.9,987.5" fill="#4858cc"/>
<polygon points="1390.8,962.9 1442,975.4 1455.2,1005.7 1373.7,1022.8 1370,1005.7" fill="#3c50c0"/>
<polygon points="1296,1009.5 1319.9,987.5 1370,1005.7 1373.7,1022.8 1299,1039" fill="#4450c0"/>
<polygon points="1185.3,957.6 1245.6,979.2 1244.8,986.8 1222.9,1022.8 1170.9,1003.8" fill="#3c50bc"/>
<polygon points="1244.8,986.8 1296,1009.5 1299,1039 1228.9,1052.4 1222.9,1022.8" fill="#3e50c4"/>
<polygon points="1170.9,1003.8 1222.9,1022.8 1228.9,1052.4 1148.2,1070" fill="#4450c4"/>
<polygon points="1224,570 1241.8,587 1239,668 1205,690 1150,672 1097,691" fill="#3c50c8"/>
<polygon points="1241.8,587 1292,627 1265.7,708 1239.2,668.4" fill="#4050c4"/>
<polygon points="1150,672 1205,690 1205,730.9 1185,740.4 1146.3,716.9" fill="#4050c8"/>
<polygon points="1205,690 1239.2,668.4 1265.7,708 1252.4,748 1205,730.9" fill="#4850c8"/>
<polygon points="1080,709 1097,691 1150,672 1146.3,716.9 1107.6,730.1" fill="#4850c8"/>
<polygon points="1039,750 1080,709 1107.6,730.1 1106.5,776.4 1075.4,795.3" fill="#3e4ebc"/>
<polygon points="1107.6,730.1 1146.3,716.9 1185,740.4 1179.6,772.6 1144.4,795.3 1106.5,776.4" fill="#3e4ac0"/>
<polygon points="1185,740.4 1205,730.9 1252.4,748 1229.7,817 1179.6,772.6" fill="#4a50cc"/>
<polygon points="1179.6,772.6 1229.7,817 1146.3,837 1144.4,795.3" fill="#4c54d0"/>
<polygon points="1075.4,795.3 1106.5,776.4 1144.4,795.3 1146.3,837 1139.8,846.5 1090.6,842 1073.5,803" fill="#3e50c0"/>
<polygon points="990.9,796.1 1039,750 1075.4,795.3 1073.5,803 1025,823.8" fill="#4244b8"/>
<polygon points="1025,823.8 1073.5,803 1090.6,842 1070.5,875 1050.8,878.7 1023.1,859" fill="#3e50bc"/>
<polygon points="984,876 1023.1,859 1050.8,878.7 1034.5,923 1011.7,929.2" fill="#3e50bc"/>
<polygon points="1050.8,878.7 1070.5,875 1108.4,914.8 1109.1,925.4 1062.9,948.1 1034.5,923" fill="#4646cc"/>
<polygon points="1090.6,842 1139.8,846.5 1143.6,876 1108.4,914.8 1070.5,875" fill="#4850cc"/>
<polygon points="1139.8,846.5 1146.3,837 1229.7,817 1201.2,905.3 1143.6,876" fill="#4448c8"/>
<polygon points="1108.4,914.8 1143.6,876 1201.2,905.3 1188,946.2 1117.8,937.5 1109.1,925.4" fill="#3c50c0"/>
<polygon points="1117.8,937.5 1188,946.2 1173.6,990 1121.6,981.9" fill="#3c50c0"/>
<polygon points="1109.1,925.4 1117.8,937.5 1121.6,981.9 1100.8,1005.7 1094.3,1006.5 1059.1,970.5 1062.9,948.1" fill="#4444cc"/>
<polygon points="1121.6,981.9 1173.6,990 1148.2,1070 1100.8,1005.7" fill="#3e50c4"/>
<polygon points="1034.5,923 1062.9,948.1 1059.1,970.5 1030.7,983 999.6,952.7 1011.7,929.2" fill="#4a50cc"/>
<polygon points="1059.1,970.5 1094.3,1006.5 1073.1,1035.3 1038.2,1032.3 1023.8,1010.7 1030.7,983" fill="#3e48c0"/>
<polygon points="1100.8,1005.7 1153.1,1053 1148.2,1070 1086.8,1081.5 1073.1,1035.3 1094.3,1006.5" fill="#4646d0"/>
<polygon points="1038.2,1032.3 1073.1,1035.3 1086.8,1081.5 1013.6,1096.7 1007.2,1088.4" fill="#3e4ac4"/>
<!-- CELLULAR -->
<polygon points="899.8,1123.5 916.7,1121.6 952.8,1181.5 932.1,1199.3 892.5,1183.4" fill="#ff6055"/>
<polygon points="916.7,1121.6 1022.3,1099.7 1022.3,1127.3 952.8,1181.5" fill="#ff6055"/>
<polygon points="892.5,1183.4 932.1,1199.3 1009.3,1231.6 1103.4,1258.9" fill="#ff5c5c"/>
<polygon points="932.1,1199.3 996.3,1150 1009.3,1231.6" fill="#f85860"/>
<polygon points="996.3,1150 1022.3,1127.3 1047.9,1167.1 1058.5,1188 1009.3,1231.6" fill="#ff5c68"/>
<polygon points="1009.3,1231.6 1058.5,1188 1103.4,1258.9" fill="#ff5c5c"/>
<polygon points="1022.3,1099.7 1074.4,1089.4 1073.4,1146.3 1047.9,1167.1 1022.3,1127.3" fill="#ff5a52"/>
<polygon points="1074.4,1089.4 1120.2,1080 1144.3,1133 1137.1,1144.4 1073.4,1146.3" fill="#ff5650"/>
<polygon points="1120.2,1080 1193.6,1063.6 1177.1,1127.3 1144.3,1133" fill="#ff5656"/>
<polygon points="1193.6,1063.6 1228.8,1055.3 1237.5,1128.5 1213.3,1151.2 1177.1,1127.3" fill="#ee5454"/>
<polygon points="1047.9,1167.1 1073.4,1146.3 1137.1,1144.4 1136.1,1180.4 1068.6,1200.5 1058.5,1188" fill="#ee5258"/>
<polygon points="1137.1,1144.4 1144.3,1133 1177.1,1127.3 1213.3,1151.2 1155.4,1207.7 1136.1,1180.4" fill="#ff5e56"/>
<polygon points="1058.5,1188 1068.6,1200.5 1136.1,1180.4 1155.4,1207.7 1103.4,1258.9" fill="#ff5c56"/>
<polygon points="1228.8,1055.3 1243.3,1053.4 1313.2,1149 1237.5,1128.5" fill="#ff4c46"/>
<polygon points="1243.3,1053.4 1277,1047.7 1321.9,1118.6 1317,1150.8 1313.2,1149" fill="#ee4644"/>
<polygon points="1277,1047.7 1370.1,1028 1321.9,1118.6" fill="#ff3a40"/>
<polygon points="1321.9,1118.6 1350.3,1068.6 1384.1,1092.1 1374.4,1122.8 1317,1150.8" fill="#dc3644"/>
<polygon points="1370.1,1028 1399,1022 1414.5,1062.1 1402.4,1090.6 1384.1,1092.1 1350.3,1068.6" fill="#f43e44"/>
<polygon points="1399,1022 1441,1012.8 1486.8,1043.2 1471.4,1066.7 1414.5,1062.1" fill="#e03248"/>
<polygon points="1441,1012.8 1544.7,992.8 1505.2,1052.3 1486.8,1043.2" fill="#f43c38"/>
<polygon points="1544.7,992.8 1560.7,987 1560.7,1085.6 1505.2,1052.3" fill="#ee3a38"/>
<polygon points="1384.1,1092.1 1402.4,1090.6 1458.9,1138 1453,1139.8 1437.6,1165.2 1374.4,1122.8" fill="#f03c40"/>
<polygon points="1402.4,1090.6 1414.5,1062.1 1471.4,1066.7 1479.6,1110.3 1458.9,1138" fill="#e03640"/>
<polygon points="1471.4,1066.7 1486.8,1043.2 1505.2,1052.3 1549.6,1080 1520.6,1112.2 1479.6,1110.3" fill="#f0344c"/>
<polygon points="1549.6,1080 1560.7,1085.6 1560.7,1161.4 1524.5,1152 1520.6,1112.2" fill="#e63a3e"/>
<polygon points="1458.9,1138 1479.6,1110.3 1520.6,1112.2 1524.5,1152 1496.5,1168.3" fill="#dc3640"/>
<polygon points="1453,1139.8 1458.9,1138 1496.5,1168.3 1485.9,1196.3 1435.2,1181.5 1437.6,1165.2" fill="#e83c40"/>
<polygon points="1496.5,1168.3 1524.5,1152 1560.7,1161.4 1560.7,1217.2 1485.9,1196.3" fill="#dc3640"/>
<polygon points="1317,1150.8 1374.4,1122.8 1437.6,1165.2 1435.2,1181.5" fill="#e4383c"/>
<polygon points="1237.5,1129.4 1319,1152 1306,1206.2 1247.1,1194.4" fill="#b00814"/>
<polygon points="1186.8,1180.4 1237.5,1129.4 1247.1,1194.4 1221.5,1222.1" fill="#b00814"/>
<polygon points="1319,1152 1390.4,1172 1346,1216.4 1309.8,1211.9 1306,1206.2" fill="#b80c10"/>
<polygon points="1390.4,1172 1419.3,1180.4 1392.8,1265.7 1355.6,1235.4 1346,1216.4" fill="#b00808"/>
<polygon points="1247.1,1194.4 1306,1206.2 1309.8,1211.9 1255,1280 1221.5,1222.1" fill="#c40c10"/>
<polygon points="1309.8,1211.9 1346,1216.4 1355.6,1235.4 1310,1300 1255,1280" fill="#c00c0c"/>
<polygon points="1355.6,1235.4 1392.8,1265.7 1385.5,1295.3 1340,1312 1310,1300" fill="#b80808"/>
<polygon points="1103.4,1258.9 1180.5,1184.2 1197.4,1252.4 1129.9,1237.3 1093.7,1269.5" fill="#b00018"/>
<polygon points="1186.8,1180.4 1240.8,1246.7 1197.4,1252.4 1180.5,1184.2" fill="#a80020"/>
<polygon points="1129.9,1237.3 1197.4,1252.4 1170,1280 1105.8,1309.3 1093.7,1269.5" fill="#c00814"/>
<polygon points="1197.4,1252.4 1240.8,1246.7 1255,1280 1204.6,1335.8 1170,1280" fill="#b80418"/>
<polygon points="1240.8,1246.7 1288.1,1302.8 1237,1351 1204.6,1335.8 1255,1280" fill="#ad0014"/>
<polygon points="1105.8,1309.3 1170,1280 1204.6,1335.8 1167.5,1343.4 1132.3,1311.2" fill="#c00818"/>
<polygon points="1255,1280 1310,1300 1340,1312 1288.1,1302.8" fill="#c00c10"/>
<polygon points="1288.1,1302.8 1340,1312 1277,1417.3 1240.8,1400.2 1237,1351" fill="#b01810"/>
<polygon points="1340,1312 1385.5,1295.3 1396.6,1345.3 1361.4,1357.8 1342,1315" fill="#c00c14"/>
<polygon points="1385.5,1295.3 1457.9,1313.1 1508.6,1378.6 1477.2,1406 1396.6,1345.3" fill="#c00c10"/>
<polygon points="1392.8,1265.7 1404.8,1233.5 1455.5,1267.6 1466.6,1292.2 1457.9,1313.1 1385.5,1295.3" fill="#b00c1c"/>
<polygon points="1419.3,1180.4 1467.6,1193.7 1455.5,1267.6 1404.8,1233.5" fill="#b00c1c"/>
<polygon points="1467.6,1193.7 1531.7,1211.9 1466.6,1292.2 1455.5,1267.6" fill="#b20c20"/>
<polygon points="1531.7,1211.9 1560.7,1217.2 1560.7,1248.6 1457.9,1313.1 1466.6,1292.2" fill="#ac0818"/>
<polygon points="1457.9,1313.1 1560.7,1248.6 1560.7,1443.9" fill="#b0141c"/>
<polygon points="1457.9,1313.1 1560.2,1443.9 1560.2,1445.7 1508.6,1378.6" fill="#c00c10"/>
<polygon points="1132.3,1311.2 1167.5,1343.4 1120.2,1409.7 1105.8,1309.3" fill="#c00818"/>
<polygon points="1167.5,1343.4 1204.6,1335.8 1237,1351 1161.2,1426.8 1120.2,1409.7" fill="#a80818"/>
<polygon points="1237,1351 1240.8,1400.2 1197.4,1455.2 1161.2,1426.8" fill="#b41810"/>
<polygon points="1240.8,1400.2 1277,1417.3 1211.9,1490.1 1197.4,1455.2" fill="#b01414"/>
<polygon points="1120.2,1409.7 1161.2,1426.8 1131.3,1455.2" fill="#aa0818"/>
<polygon points="1131.3,1455.2 1161.2,1426.8 1197.4,1455.2 1211.9,1490.1 1139.5,1498.8" fill="#b81414"/>
<polygon points="1139.5,1498.8 1211.9,1490.1 1222.5,1498.8 1185.4,1561.4 1151.6,1561.4" fill="#bc1c10"/>
<polygon points="1342.1,1315 1361.4,1357.8 1363.8,1424.9 1342,1478 1290,1440 1277,1417.3" fill="#c00814"/>
<polygon points="1277,1417.3 1222.5,1498.8 1262.5,1526.5 1290.5,1502.6 1267.4,1434.4" fill="#c80a1c"/>
<polygon points="1267.4,1434.4 1277,1417.3 1290,1440 1342.1,1478 1338.3,1493.1 1321.9,1506.4 1290.5,1502.6" fill="#c00a12"/>
<polygon points="1361.4,1357.8 1396.6,1345.3 1425.1,1459 1371,1425.7" fill="#bc0810"/>
<polygon points="1396.6,1345.3 1477.2,1406 1425.1,1459" fill="#c40c14"/>
<polygon points="1371,1425.7 1425.1,1459 1425.6,1474.2 1409.7,1494 1354.2,1467.7 1363.8,1424.9" fill="#c00c10"/>
<polygon points="1477.2,1406 1508.6,1378.6 1560.2,1445.7 1518.2,1457.1 1510,1454.5" fill="#cc0c18"/>
<polygon points="1425.1,1459 1477.2,1406 1510,1454.5 1425.6,1474.2" fill="#cc0818"/>
<polygon points="1342,1478 1354.2,1467.7 1409.7,1494 1382.2,1529.2 1338.3,1493.1" fill="#b40818"/>
<polygon points="1409.7,1494 1425.6,1474.2 1510,1454.5 1495.5,1522.3 1421.7,1487.5" fill="#cc0818"/>
<polygon points="1510,1454.5 1518.2,1457.1 1560.2,1445.7 1560.7,1561 1511,1561 1495.5,1522.3" fill="#c00c14"/>
<polygon points="1222.5,1498.8 1262.5,1526.5 1264,1561 1185.4,1561" fill="#c41010"/>
<polygon points="1262.5,1526.5 1290.5,1502.6 1321.9,1506.4 1320,1561 1264,1561" fill="#bc0818"/>
<polygon points="1321.9,1506.4 1338.3,1493.1 1382.2,1529.2 1382,1561 1320,1561" fill="#bc0818"/>
<polygon points="1382.2,1529.2 1421.7,1487.5 1495.5,1522.3 1511,1561 1382,1561" fill="#bc0816"/>
<!-- PINK -->
<polygon points="892.5,1183.4 969.2,1216.4 959.1,1246 922.5,1255.4 888.7,1204.3" fill="#e22c48"/>
<polygon points="969.2,1216.4 1079,1269.5 984.2,1280.1 959.1,1246" fill="#e42845"/>
<polygon points="888.7,1204.3 922.5,1255.4 887.7,1313.8 873.2,1313.8" fill="#e62a4c"/>
<polygon points="922.5,1255.4 959.1,1246 984.2,1280.1 946.6,1367.3 928.7,1363.1 887.7,1313.8" fill="#ef2a48"/>
<polygon points="873.2,1313.8 887.7,1313.8 928.7,1363.1 907,1381.3 862.2,1380.6" fill="#e8244c"/>
<polygon points="984.2,1280.1 1079,1269.5 1060,1317 1022.8,1409.7 968.3,1402.2 946.6,1367.3" fill="#e8224c"/>
<polygon points="1079,1269.5 1093.7,1269.5 1120.2,1409.7 1022.8,1409.7 1060,1317" fill="#d82444"/>
<polygon points="928.7,1363.1 946.6,1367.3 968.3,1402.2 958.6,1428.7 924.9,1434.4 907,1381.3" fill="#e02644"/>
<polygon points="862.2,1380.6 907,1381.3 924.9,1434.4 908,1451.4 857.3,1410.5" fill="#ea2a48"/>
<polygon points="958.6,1428.7 968.3,1402.2 1022.8,1409.7 1021.3,1437 980.3,1457.1" fill="#dc2048"/>
<polygon points="908,1451.4 924.9,1434.4 958.6,1428.7 980.3,1457.1 970.7,1500.7" fill="#de2448"/>
<polygon points="980.3,1457.1 1021.3,1437 1053.7,1485.5 982.7,1513.2 970.7,1500.7" fill="#ec2a44"/>
<polygon points="1021.3,1437 1022.8,1409.7 1120.2,1409.7 1129.9,1459 1059.9,1488.2" fill="#f22c4c"/>
<polygon points="1059.9,1488.2 1129.9,1459 1141,1515.9 1079.2,1525.4" fill="#f02a4c"/>
<polygon points="982.7,1513.2 1053.7,1485.5 1059.9,1488.2 1079.2,1525.4 1072,1561 1039.2,1561" fill="#e82450"/>
<polygon points="1079.2,1525.4 1141,1515.9 1150,1561 1072,1561" fill="#e02840"/>
<polygon points="857.3,1410.5 908,1451.4 928.2,1470.4 846.2,1486.3" fill="#e83c4c"/>
<polygon points="846.2,1486.3 928.2,1470.4 904.6,1540.5 844.3,1503.4" fill="#f03450"/>
<polygon points="928.2,1470.4 970.7,1500.7 985.2,1518.5 910.4,1561 904.6,1540.5" fill="#e83c50"/>
<polygon points="844.3,1503.4 904.6,1540.5 910.4,1561 835.6,1561" fill="#e03448"/>
<polygon points="985.2,1518.5 1039.2,1561 910.4,1561" fill="#f54454"/>
<!-- METABOLISM -->
<polygon points="256,870 315.5,848.8 323.7,875.2 308.6,918.6 250.5,887.7" fill="#e8a040"/>
<polygon points="315.5,848.8 390,819 393.3,877.2 323.7,875.2" fill="#d68c44"/>
<polygon points="390,819 423,802.5 463.4,830.4 398.8,881.2 393.3,877.2" fill="#e29448"/>
<polygon points="323.7,875.2 393.3,877.2 398.8,881.2 320,948.5 308.6,918.6" fill="#d8944c"/>
<polygon points="250.5,887.7 308.6,918.6 320,948.5 282.5,979.4 224.8,929.6" fill="#e29840"/>
<polygon points="224.8,929.6 282.5,979.4 244.5,1012.3 196.5,975" fill="#d08a3c"/>
<polygon points="320,948.5 375,905.1 402.5,942 385.1,971" fill="#cc8a1e"/>
<polygon points="375,905.1 468.9,833.9 402.5,942" fill="#d48e20"/>
<polygon points="468.9,833.9 528.4,875.2 482.6,904.6 446,876.2" fill="#ffb520"/>
<polygon points="528.4,875.2 561.8,897.2 529.8,961 505.5,950 492.7,904.6 482.6,904.6" fill="#ffb420"/>
<polygon points="561.8,897.2 671.3,971 662.1,982 588.9,1014.8 534.4,978.4 529.8,961" fill="#ffb41e"/>
<polygon points="446,876.2 482.6,904.6 431.3,962.5 402.5,942" fill="#ffb824"/>
<polygon points="482.6,904.6 492.7,904.6 505.5,950 452,993.4 431.3,962.5" fill="#ffb620"/>
<polygon points="385.1,971 402.5,942 431.3,962.5 452,993.4 452,1005.8 404.8,1017.3" fill="#ffb81e"/>
<polygon points="452,993.4 505.5,950 529.8,961 534.4,978.4 510.1,1015.8 457.4,1010.8 452,1005.8" fill="#ffc020"/>
<polygon points="404.8,1017.3 452,1005.8 457.4,1010.8 460.7,1074.1 436,1095.6" fill="#ffb92c"/>
<polygon points="457.4,1010.8 510.1,1015.8 524.8,1042.2 483.5,1075.6 460.7,1074.1" fill="#ffb828"/>
<polygon points="510.1,1015.8 534.4,978.4 588.9,1014.8 587,1040.7 571,1055.7 524.8,1042.2" fill="#ffb024"/>
<polygon points="588.9,1014.8 662.1,982 648.4,1053.2 587,1040.7" fill="#ffb420"/>
<polygon points="662.1,982 671.3,971 719.4,1003.4 678.1,1078.1 652,1062.2 648.4,1053.2" fill="#f8b020"/>
<polygon points="524.8,1042.2 571,1055.7 579.7,1098 533,1125.5 483.5,1075.6" fill="#ffb41c"/>
<polygon points="571,1055.7 587,1040.7 648.4,1053.2 652,1062.2 598,1110.5 579.7,1098" fill="#ffb820"/>
<polygon points="652,1062.2 678.1,1078.1 647.5,1133 598,1110.5" fill="#f6b020"/>
<polygon points="436,1095.6 460.7,1074.1 483.5,1075.6 533,1125.5 443.7,1118" fill="#ffb428"/>
<polygon points="443.7,1118 533,1125.5 538.5,1176.3 465.7,1172.8" fill="#ffb028"/>
<polygon points="533,1125.5 579.7,1098 598,1110.5 571,1177.8 538.5,1176.3" fill="#ffc020"/>
<polygon points="598,1110.5 647.5,1133 622.3,1180.3 571,1177.8" fill="#ffc81e"/>
<polygon points="719.4,1003.4 742.7,1020.8 742.7,1068.2 728.5,1079.1 691.9,1055.7" fill="#eca412"/>
<polygon points="742.7,1020.8 828.3,1079.1 801.8,1098.1 742.7,1068.2" fill="#eea818"/>
<polygon points="691.9,1055.7 728.5,1079.1 732.2,1129.5 641,1145" fill="#f2aa14"/>
<polygon points="728.5,1079.1 742.7,1068.2 801.8,1098.1 788,1124.5 745.9,1139.4 732.2,1129.5" fill="#eea818"/>
<polygon points="801.8,1098.1 828.3,1079.1 871.8,1107 819.2,1152.9 788,1124.5" fill="#e8a414"/>
<polygon points="641,1145 732.2,1129.5 745.9,1139.4 742.7,1154.4 687.8,1187.8 636,1157.9" fill="#f0a414"/>
<polygon points="745.9,1139.4 788,1124.5 819.2,1152.9 759.7,1205.2 742.7,1154.4" fill="#f2a418"/>
<polygon points="687.8,1187.8 742.7,1154.4 759.7,1205.2 709.3,1245.1 700,1235" fill="#e6a012"/>
<polygon points="622.3,1180.3 636,1157.9 687.8,1187.8 709.3,1245.1" fill="#dc9c14"/>
<polygon points="244.5,1012.3 320,950 323.3,952.5 324.7,1005.9 305.4,1021.8 242.2,1020.8" fill="#e4960e"/>
<polygon points="323.3,952.5 385.1,971 395.6,1000.9 358.1,1014.8 324.7,1005.9" fill="#e88c10"/>
<polygon points="242.2,1020.8 305.4,1021.8 306.3,1063.2 267.4,1076.6 236.8,1043.2" fill="#e08c10"/>
<polygon points="305.4,1021.8 324.7,1005.9 358.1,1014.8 354.4,1073.1 327.9,1083.1 306.3,1063.2" fill="#f09008"/>
<polygon points="358.1,1014.8 395.6,1000.9 406.2,1029.8 379.6,1085.6 354.4,1073.1" fill="#ffa018"/>
<polygon points="236.8,1043.2 267.4,1076.6 264.2,1123 245.9,1133 210.2,1124.5" fill="#ec9414"/>
<polygon points="267.4,1076.6 306.3,1063.2 327.9,1083.1 321.5,1124.5 302.7,1138 264.2,1123" fill="#e8880e"/>
<polygon points="327.9,1083.1 354.4,1073.1 379.6,1085.6 396.1,1114 358.1,1138 321.5,1124.5" fill="#ee8c10"/>
<polygon points="379.6,1085.6 406.2,1029.8 441.4,1114.5 414,1119.5 396.1,1114" fill="#ec9010"/>
<polygon points="210.2,1124.5 245.9,1133 253.7,1190.3 201,1191.8 196.5,1167.9" fill="#ec9414"/>
<polygon points="245.9,1133 264.2,1123 302.7,1138 307.3,1190.3 253.7,1190.3" fill="#e88c10"/>
<polygon points="302.7,1138 321.5,1124.5 358.1,1138 361.3,1190.3 307.3,1190.3" fill="#ff9c10"/>
<polygon points="358.1,1138 396.1,1114 414,1119.5 422.2,1189.3 361.3,1190.3" fill="#e88c18"/>
<polygon points="414,1119.5 441.4,1114.5 465.7,1172.8 449.7,1189.3 422.2,1189.3" fill="#f8980c"/>
<polygon points="167.5,1017.2 195.6,976.5 244.5,1012 235,1041.9 174.8,1041.9" fill="#8c3e06"/>
<polygon points="174.8,1041.9 235,1041.9 196.6,1165.3" fill="#9a3c04"/>
<polygon points="201,1191.8 323.3,1191.3 268,1243" fill="#d89a22"/>
<polygon points="323.3,1191.3 338.4,1191.3 338.4,1273 268,1243" fill="#d8a21c"/>
<polygon points="338.4,1191.3 355.8,1191.3 394.3,1242.6 392,1270 338.4,1273" fill="#dc9c20"/>
<polygon points="355.8,1191.3 449.7,1189.3 434.6,1242.6 394.3,1242.6" fill="#e4a01c"/>
<polygon points="338.4,1273 392,1270 422.2,1315 415.3,1350" fill="#e09c20"/>
<polygon points="392,1270 394.3,1242.6 434.6,1242.6 422.2,1315" fill="#d49c18"/>
<polygon points="465.7,1172.8 517.9,1176.3 523.8,1210.2 439.6,1237.6 449.7,1189.3" fill="#ee9a20"/>
<polygon points="517.9,1176.3 622.3,1180.3 576.5,1227.7 532.1,1223.7 523.8,1210.2" fill="#e08c24"/>
<polygon points="439.6,1237.6 523.8,1210.2 532.1,1223.7 540,1290 484,1287.5 471.2,1285" fill="#e6902c"/>
<polygon points="532.1,1223.7 576.5,1227.7 600,1270 560.5,1285 540,1290" fill="#ff9c1c"/>
<polygon points="576.5,1227.7 622.3,1180.3 654.3,1220.2 600,1270" fill="#ffa020"/>
<polygon points="622.3,1180.3 709,1245 600,1270 654.3,1220.2" fill="#f09020"/>
<polygon points="600,1270 709,1245 591.2,1356.3 557.3,1310 560.5,1285" fill="#e08c20"/>
<polygon points="439.6,1237.6 471.2,1285 450.6,1358.3 436,1366.3 415.3,1350" fill="#ea8c24"/>
<polygon points="471.2,1285 484,1287.5 512.4,1329.8 507.8,1358.3 450.6,1358.3" fill="#f49620"/>
<polygon points="484,1287.5 540,1290 560.5,1285 557.3,1310 512.4,1329.8" fill="#ff9a18"/>
<polygon points="512.4,1329.8 557.3,1310 591.2,1356.3 540.8,1402.1 507.8,1358.3" fill="#f09020"/>
<polygon points="436,1366.3 450.6,1358.3 507.8,1358.3 540.8,1402.1 514.7,1425.6" fill="#e88c14"/>
<polygon points="800,1172.8 871.8,1107 896,1123 837.5,1195.3" fill="#e4c26c"/>
<polygon points="896,1123 882.4,1221.2 837.5,1195.3" fill="#f4ca74"/>
<polygon points="709.3,1245.1 800,1172.8 828.3,1189.3 810,1244.1 739,1234.2" fill="#e0b470"/>
<polygon points="828.3,1189.3 882.4,1221.2 875.5,1267.5 810,1244.1" fill="#e4b46c"/>
<polygon points="739,1234.2 810,1244.1 803.2,1257.6 755,1297.5" fill="#e4b870"/>
<polygon points="803.2,1257.6 810,1244.1 875.5,1267.5 862.7,1348.8 842,1347.3" fill="#ecb874"/>
<polygon points="755,1297.5 803.2,1257.6 842,1347.3 772.5,1342.3 751.9,1306" fill="#e4b870"/>
<polygon points="709.3,1245.1 739,1234.2 755,1297.5 751.9,1306 710.2,1310 620,1333.9" fill="#e4b86c"/>
<polygon points="620,1333.9 710.2,1310 651.1,1356.3" fill="#e4bc6c"/>
<polygon points="620,1333.9 651.1,1356.3 651.1,1372.2 636,1402.1 589.3,1412.1 574.2,1374.7" fill="#e0b46c"/>
<polygon points="710.2,1310 751.9,1306 772.5,1342.3 761,1384.7 725.3,1398.2" fill="#d8aa6c"/>
<polygon points="651.1,1356.3 710.2,1310 725.3,1398.2 651.1,1372.2" fill="#e2b46c"/>
<polygon points="772.5,1342.3 842,1347.3 791.7,1415.6 761,1384.7" fill="#dab06c"/>
<polygon points="842,1347.3 862.7,1348.8 853.5,1411.1 791.7,1415.6" fill="#e0b46c"/>
<polygon points="514.7,1425.6 574.2,1374.7 589.3,1412.1 580.2,1437.1 566.4,1449.5 516,1432" fill="#d8aa6c"/>
<polygon points="589.3,1412.1 636,1402.1 655.3,1440.5 627.8,1478.4 580.2,1437.1" fill="#e8b470"/>
<polygon points="636,1402.1 651.1,1372.2 725.3,1398.2 716.1,1444.5 655.3,1440.5" fill="#f0bc70"/>
<polygon points="516,1432 566.4,1449.5 567.3,1509.3 523.8,1521.8" fill="#ecba6c"/>
<polygon points="566.4,1449.5 580.2,1437.1 627.8,1478.4 585.6,1524.3 567.3,1509.3" fill="#dcaa70"/>
<polygon points="655.3,1440.5 708.4,1447 685,1514.3 627.8,1478.4" fill="#dcaa6c"/>
<polygon points="725.3,1398.2 761,1384.7 791.7,1415.6 790.8,1439.5 745,1459.5 716.1,1444.5" fill="#ecb870"/>
<polygon points="708.4,1447 716.1,1444.5 745,1459.5 750.5,1504.3 685,1514.3" fill="#f0bc68"/>
<polygon points="791.7,1415.6 853.5,1411.1 844.4,1481.9 809.1,1476.9 790.8,1439.5" fill="#d8ae68"/>
<polygon points="745,1459.5 790.8,1439.5 809.1,1476.9 787.1,1501.8 750.5,1504.3" fill="#e8b470"/>
<polygon points="627.8,1478.4 685,1514.3 697.8,1561 597,1561 585.6,1524.3" fill="#e4bc6a"/>
<polygon points="523.8,1521.8 567.3,1509.3 585.6,1524.3 597,1561 526,1561" fill="#e8b468"/>
<polygon points="685,1514.3 750.5,1504.3 748.2,1561 697.8,1561" fill="#e8b470"/>
<polygon points="750.5,1504.3 787.1,1501.8 814.6,1561 748.2,1561" fill="#e0b468"/>
<polygon points="787.1,1501.8 809.1,1476.9 844.4,1481.9 833,1561 814.6,1561" fill="#f0bc70"/>
<polygon points="201,1192 297,1269 220.3,1294" fill="#bc6a24"/>
<polygon points="220.3,1294 242.2,1285 284.4,1344.8 237.7,1404.7" fill="#b86224"/>
<polygon points="242.2,1285 297,1269 369.1,1319.9 338.4,1353.3 284.4,1344.8" fill="#a65a1c"/>
<polygon points="284.4,1344.8 338.4,1353.3 289.4,1413.6 237.7,1404.7" fill="#a05c26"/>
<polygon points="237.7,1404.7 289.4,1413.6 295.8,1473.4 253.7,1490.4" fill="#ae502c"/>
<polygon points="289.4,1413.6 337.5,1358.8 384.2,1402.1 387.4,1417.1 369.5,1434.6 298.6,1404.7" fill="#bc6014"/>
<polygon points="298.6,1404.7 369.5,1434.6 372.7,1475.9 343,1529.3 295.8,1473.4 289.4,1413.6" fill="#b26018"/>
<polygon points="369.1,1319.9 407.1,1348.3 384.2,1402.1 337.5,1358.8" fill="#bc6414"/>
<polygon points="407.1,1348.3 464.3,1390.7 422.2,1428 387.4,1417.1 384.2,1402.1" fill="#c06424"/>
<polygon points="464.3,1390.7 514.7,1425.6 487.2,1465.5 431.3,1447 422.2,1428" fill="#c86a1c"/>
<polygon points="369.5,1434.6 387.4,1417.1 422.2,1428 431.3,1447 414.9,1493.4 372.7,1475.9" fill="#b85c14"/>
<polygon points="431.3,1447 487.2,1465.5 452,1532.7 424,1515.3 414.9,1493.4" fill="#b86414"/>
<polygon points="372.7,1475.9 414.9,1493.4 424,1515.3 361.3,1559 343,1529.3" fill="#c8641c"/>
<polygon points="424,1515.3 452,1532.7 439.1,1561 361.3,1561" fill="#b05c1c"/>
<polygon points="487.2,1465.5 514.7,1425.6 523,1534.3 465.2,1512.8" fill="#a05828"/>
<polygon points="465.2,1512.8 523,1534.3 526,1561 439.1,1561" fill="#9c5824"/>
<polygon points="253.7,1490.4 295.8,1473.4 310.9,1494.4 269.7,1561 262,1561" fill="#c45a2c"/>
<polygon points="310.9,1494.4 343,1529.3 361.3,1561 269.7,1561" fill="#c45634"/>
<!-- HUMAN -->
<polygon points="8,778 133,827.3 110.3,848 8,813" fill="#3c2e30"/>
<polygon points="8,813 110.3,848 67,885 8,870.6" fill="#3c2e34"/>
<polygon points="133,827.3 141.5,828.4 127,900.4 115.9,916.9 78,922 67,885" fill="#382840"/>
<polygon points="8,870.6 67,885 78,922 40.6,936.4 8,939" fill="#3c2438"/>
<polygon points="141.5,828.4 256.6,870.6 231,908 144.6,842.8" fill="#3a3c42"/>
<polygon points="144.6,842.8 231,908 225.8,917.4 127,900.4" fill="#443836"/>
<polygon points="127,900.4 225.8,917.4 196.6,967.3 127,939 115.9,916.9" fill="#4c3c3e"/>
<polygon points="115.9,916.9 127,939 196.6,967.3 167,1016 160.2,1016.1" fill="#807080"/>
<polygon points="40.6,936.4 78,926 108.6,1017.7 60.8,1018.7" fill="#646468"/>
<polygon points="78,922 115.9,916.9 160.2,1016.1 108.6,1017.7" fill="#5a5a70"/>
<polygon points="8,939 40.6,936.4 60.8,1018.7 8,1021.3" fill="#686e64"/>
<!-- ORGANISMAL -->
<polygon points="8,1025.4 61.4,1023.8 62,1030 23.3,1112.8 8,1113" fill="#f222e0"/>
<polygon points="62,1030 96.3,1073.7 94.7,1112.8 23.3,1112.8" fill="#dc20d4"/>
<polygon points="61.4,1023.8 167.5,1017.2 174.4,1060.9 96.3,1073.7 62,1030" fill="#e020d8"/>
<polygon points="96.3,1073.7 174.4,1060.9 183,1113.9 94.7,1112.8" fill="#e420dc"/>
<polygon points="8,1113.9 117.6,1114.9 92.6,1157.6 35.8,1153.5 8,1137" fill="#b808a8"/>
<polygon points="117.6,1114.9 183,1113.9 194.5,1175.6 183,1182.3 105,1138.6" fill="#d018b0"/>
<polygon points="105,1138.6 183,1182.3 126.9,1218.3 118.6,1203.9 92.6,1157.6" fill="#c810a8"/>
<polygon points="8,1137 35.8,1153.5 53.7,1194.6 8,1227" fill="#c014a8"/>
<polygon points="35.8,1153.5 92.6,1157.6 118.6,1203.9 53.7,1194.6" fill="#b80cb0"/>
<polygon points="53.7,1194.6 118.6,1203.9 126.9,1218.3 125.9,1246 78.7,1252.7" fill="#ac10b4"/>
<polygon points="8,1227 53.7,1194.6 78.7,1252.7 64.5,1265.6 8,1270.8" fill="#b81ca0"/>
<polygon points="126.9,1218.3 194.5,1175.6 202.9,1227 146.7,1265.6 125.9,1246" fill="#bc08a8"/>
<polygon points="8,1270.8 64.5,1265.6 66.6,1314.5 8,1325.8" fill="#ac08a4"/>
<polygon points="64.5,1265.6 78.7,1252.7 125.9,1246 146.7,1265.6 66.6,1314.5" fill="#c40cb0"/>
<polygon points="66.6,1314.5 180,1244 162.3,1314.5 110.3,1399.4 72,1350" fill="#ff38a0"/>
<polygon points="180,1244 202.9,1227 223,1342.8 162.3,1314.5" fill="#e83098"/>
<polygon points="162.3,1314.5 223,1342.8 110.3,1399.4" fill="#ff38a8"/>
<polygon points="8,1325.8 66.6,1314.5 72,1350 110.3,1399.4 97.8,1389.1 69.7,1391.6 8,1372.6" fill="#e0149c"/>
<polygon points="8,1372.6 69.7,1391.6 8,1471.4" fill="#d80ca8"/>
<polygon points="69.7,1391.6 97.8,1389.1 110.3,1399.4 103.4,1445.7 34.3,1439.5" fill="#d414a4"/>
<polygon points="25,1451.9 34.3,1439.5 103.4,1445.7 97.8,1494.5 63.5,1511" fill="#cc10a4"/>
<polygon points="8,1471.4 25,1451.9 63.5,1511 8,1538.3" fill="#e01ca8"/>
<polygon points="110.3,1399.4 223,1342.8 168.5,1416.3" fill="#ec4c90"/>
<polygon points="223,1342.8 230.5,1386.5 168.5,1416.3" fill="#ec4c90"/>
<polygon points="168.5,1416.3 230.5,1386.5 249.7,1498.6" fill="#ea4c8c"/>
<polygon points="110.3,1399.4 168.5,1416.3 203.9,1454.4 102,1480.1" fill="#f84098"/>
<polygon points="168.5,1416.3 249.7,1498.6 220.1,1471.4 203.9,1454.4" fill="#ec3c98"/>
<polygon points="102,1480.1 203.9,1454.4 220.1,1471.4 158.1,1522.8 97.8,1494.5" fill="#f03c9c"/>
<polygon points="158.1,1522.8 220.1,1471.4 249.7,1498.6 261.8,1561 234,1561" fill="#ec3c98"/>
<polygon points="8,1538.3 54.5,1517.7 115.5,1557.3 115.5,1561 8,1561" fill="#cc3cc0"/>
<polygon points="54.5,1517.7 97.8,1494.5 146.7,1519.2 115.5,1557.3" fill="#d830b0"/>
<polygon points="146.7,1519.2 234,1561 115.5,1561" fill="#cc28c4"/>
</g>
<!-- sub-region lines -->
<g fill="none" stroke="#000" stroke-width="1.8" stroke-linejoin="round" stroke-linecap="round">
<path d="M5,292 L103,281 L131,301 L301,320 L405,208 L457,247"/>
<path d="M58,200 L103,281 M405,208 L402,168 L398,138 M120,58 L262,62 L331,66 M412,50 L428,120 L398,138 M60,30 L105,72 L68,124 L58,200 L5,208 M120,5 V58 L105,72"/>
<path d="M131,301 L150,441 M301,320 L339,379 M392,324 L487,369 M34,519 L146,459 M166,465 L231,504 M34,519 L124,625 M5,667 L74,681 M5,517 L34,519"/>
<path d="M265,468 L316,537 L462,536 M316,537 L314,622 L448,626 M314,622 L295,644 L290,656 L424,785 M194,547 L267,570 L295,644 M161,586 L227,671 L290,656 M227,671 L181,711 L104,679 L91,664 M104,679 L138,759 L157,761 L181,711 M157,761 L165,835"/>
<path d="M517,210 L567,238.5 L668,224 L735.5,167 L837,176 L920,159 L932,165 L985.4,157 M676,7 L735.5,167 M847,7 L837,176 M915,7 L920,159 M932,165 L949,240 M837,176 L867,270 M668,224 L710,331 M567,238.5 L542.5,346 L568,385 M496.5,343 L542.5,346"/>
<path d="M1133.8,147 L1303.6,7.6 M1317,7.6 L1561,185.7 M1071.6,99.3 L1133.8,147 L1107.2,261.6 L1140.6,390.4 M987,144 L1071.6,99.3 M991.6,67.5 L1070.5,93 L1077,7.6 M1038,282.4 L1107.2,261.6 M1208.8,457.5 L1493.1,388.6 L1561,267 M1493.1,388.6 L1514,415.8 L1523.5,493.6 L1503.8,547.8 M1514,415.8 L1561,415 M1523.5,493.6 L1561,497.3"/>
<path d="M529,402 L831,415 L849,432 L947,546 L1047,639 L1085,690 M829,288 L831,415 M1045,473 L1140,486 L1188,437 M1075,323 L1045,473 M465,546 L716,773 L741,771 L844,937 M741,771 L947,546 M651,851 L671,969 M651,851 L716,773 M1139,487 L1197,594 M947,546 L1025,473"/>
<path d="M874,908 L1013,1097 M1224,570 L1292,627 L1463,619 L1478,547 M1463,619 L1561,671 M1292,627 L1148.2,1070"/>
<path d="M892.5,1183.4 L1103.4,1258.9 L1237.5,1129.4 L1228.8,1055.3 M1237.5,1129.4 L1560.7,1217.2 M1277,1047.7 L1321.9,1118.6 L1317,1150.8 M1321.9,1118.6 L1370.1,1028 M1022.3,1099.7 L1022.3,1127.3 L932.1,1199.3 M1022.3,1127.3 L1103.4,1258.9 M1093.7,1269.5 L1151.6,1561 M1186.8,1180.4 L1288.1,1302.8 L1131.3,1455.2 M1419.3,1180.4 L1385.5,1295.3 L1457.9,1313.1 L1560.7,1248.6 M1457.9,1313.1 L1560.2,1443.9 M1385.5,1295.3 L1342,1315 L1185.4,1561 M857.3,1410.5 L1039.2,1561"/>
<path d="M244.5,1012.3 L468.9,833.9 M320,948.5 L385.1,971 L465.7,1172.8 L622.3,1180.3 L709,1245 M385.1,971 L468.9,833.9 M196.5,1167.9 L244.5,1012.3 M201,1191.8 L449.7,1189.3 L415.3,1350 M449.7,1189.3 L465.7,1172.8 M719.4,1003.4 L622.3,1180.3 M201,1192 L514.7,1425.6 L871.8,1107 M800,1172.8 L882.4,1221.2 M514.7,1425.6 L526,1561 M220.3,1294 L297,1269 M237.7,1404.7 L289.4,1413.6 L369.1,1319.9 M289.4,1413.6 L295.8,1473.4 L253.7,1490.4 M295.8,1473.4 L361.3,1561 M514.7,1425.6 L439.1,1561"/>
<path d="M8,1113.9 H183 M35.8,1153.5 L78.7,1252.7 M92.6,1157.6 L126.9,1218.3 M117.6,1114.9 L92.6,1157.6 L35.8,1153.5 M126.9,1218.3 L194.5,1175.6 M126.9,1218.3 L125.9,1246 L78.7,1252.7 L64.5,1265.6 L8,1270.8 M64.5,1265.6 L66.6,1314.5 L8,1325.8 M125.9,1246 L146.7,1265.6 M66.6,1314.5 L202.9,1227 M8,1325.8 L110.3,1399.4 L223,1342.8 M110.3,1399.4 L97.8,1494.5 L8,1538.3 M97.8,1494.5 L234,1561"/>
<path d="M8,939 L67,885 L133,827 M8,870.6 L67,885 M141.5,828.4 L115.9,916.9 M141.5,828.4 L231,908 M40.6,936.4 L60.8,1018.7 M127,939 L160.2,1016.1 M127,939 L196.6,967.3 M78,922 L115.9,916.9 L127,900.4 M127,900.4 L225.8,917.4"/>
</g>
<!-- major lines -->
<g fill="none" stroke="#000" stroke-width="4.8" stroke-linejoin="miter">
<path d="M547,5 L520,180 L483,418 L424,800 L256,870 L5,775"/>
<path d="M424,800 L465,830 L670,968 L752,1022 L872,1105 L900,1122 L1562,985"/>
<path d="M900,1122 L885,1222 L833,1562"/>
<path d="M256,870 L197,980 L168,1017 L5,1024"/>
<path d="M168,1017 L200,1192 L262,1562"/>
</g>
<g fill="none" stroke="#000" stroke-width="3" stroke-linejoin="miter">
<path d="M520,180 L392,324 L231,504 L91,664 L5,757"/>
<path d="M483,418 L983,228 L994,5"/>
<path d="M983,228 L1188,437 L1254,508 L1277,525 L1562,555"/>
<path d="M752,1022 L1224,570 L1277,525"/>
</g>
<rect x="3.75" y="3.75" width="1560.5" height="1560.5" fill="none" stroke="#000" stroke-width="7.5"/>
<!-- labels -->
<text x="1032" y="436" font-size="130.5">Genetic</text>
<text x="1036" y="567.5" font-size="130.5">Information</text>
<text x="1028" y="698.7" font-size="130.5">Processing</text>
<text x="230.5" y="371" font-size="46.8">Environmental</text>
<text x="232" y="417" font-size="46.8">Information</text>
<text x="229" y="463" font-size="46.8">Processing</text>
<text x="541" y="1288" font-size="81.5">Metabolism</text>
<text x="1224" y="1316" font-size="95">Cellular</text>
<text x="1222" y="1408" font-size="95">Processes</text>
<text x="104" y="906" font-size="31.4">Human</text>
<text x="100" y="938" font-size="31.4">Diseases</text>
<text x="109" y="1328" font-size="27">Organismal</text>
<text x="109" y="1354" font-size="27">Systems</text>
</svg>
</body></html>
